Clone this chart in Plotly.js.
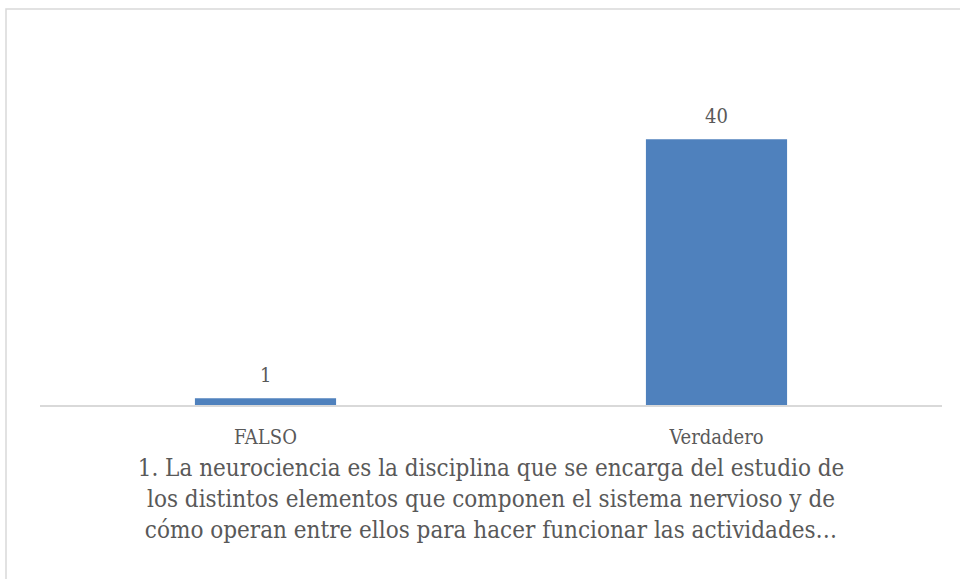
<!DOCTYPE html>
<html><head><meta charset="utf-8">
<script src="https://cdn.plot.ly/plotly-3.0.1.min.js"></script>
<style>html,body{margin:0;padding:0;background:#fff}#c{width:960px;height:579px}</style>
</head><body><div id="c"></div>
<script>
const categories = ["FALSO", "Verdadero"];
const values = [1, 40];
const axisTitle = "1. La neurociencia es la disciplina que se encarga del estudio de<br>los distintos elementos que componen el sistema nervioso y de<br>cómo operan entre ellos para hacer funcionar las actividades…";
const font = "DejaVu Serif Condensed, DejaVu Serif, serif";
const textColor = "#595959";
Plotly.newPlot("c", [{
  type: "bar", x: categories, y: values,
  marker: {color: "#4F81BD"},
  hoverinfo: "none"
}], {
  width: 960, height: 579,
  margin: {l: 40, r: 18, t: 106, b: 174},
  paper_bgcolor: "#fff", plot_bgcolor: "#fff",
  bargap: 0.687,
  showlegend: false,
  xaxis: {showline: true, linecolor: "#d9d9d9", linewidth: 1.5, ticks: "outside", ticklen: 13, tickcolor: "rgba(0,0,0,0)", showgrid: false,
    tickfont: {family: font, size: 20, color: textColor},
    title: {text: axisTitle, font: {family: font, size: 24, color: textColor}, standoff: 11}},
  yaxis: {range: [0, 45], showticklabels: false, showgrid: false, zeroline: false, showline: false},
  annotations: categories.map((c, i) => ({x: c, y: values[i], xref: "x", yref: "y", text: String(values[i]),
    showarrow: false, yanchor: "bottom", yshift: 9, font: {family: font, size: 20, color: textColor}})),
  shapes: [{type: "rect", xref: "paper", yref: "paper", x0: -0.0377, x1: 1.03, y0: -0.62, y1: 1.324,
    line: {color: "#d9d9d9", width: 1.5}, fillcolor: "rgba(0,0,0,0)"}]
}, {displayModeBar: false, staticPlot: true});
</script></body></html>
